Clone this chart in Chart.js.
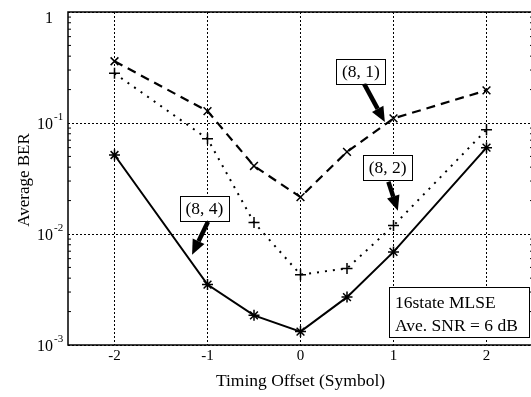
<!DOCTYPE html>
<html>
<head>
<meta charset="utf-8">
<script src="https://cdn.jsdelivr.net/npm/chart.js@4.4.0/dist/chart.umd.min.js"></script>
<style>
  html, body { margin: 0; padding: 0; background: #fff; overflow: hidden; }
  canvas { display: block; }
</style>
</head>
<body>
<canvas id="chart" width="540" height="397"></canvas>
<script>
// BER vs timing offset
const offsets = [-2, -1, -0.5, 0, 0.5, 1, 2];
const ber81 = [0.36, 0.128, 0.041, 0.0215, 0.055, 0.11, 0.197];
const ber82 = [0.28, 0.072, 0.0127, 0.0043, 0.0049, 0.0119, 0.087];
const ber84 = [0.0515, 0.0035, 0.00185, 0.00132, 0.0027, 0.0069, 0.060];

const xTicks = [-2, -1, 0, 1, 2];
const yExps = [-3, -2, -1, 0];

// labels with arrows, in data coordinates
const noteText = ['(8, 1)', '(8, 2)', '(8, 4)'];
const noteBox = [[0.65, 0.294], [0.937, 0.0394], [-1.034, 0.0171]];
const noteTail = [[0.683, 0.226], [0.945, 0.0296], [-0.995, 0.0129]];
const noteTip = [[0.907, 0.102], [1.047, 0.0162], [-1.166, 0.0065]];
const infoLines = ['16state MLSE', 'Ave. SNR = 6 dB'];

const SERIF = '"Liberation Serif", "DejaVu Serif", serif';

function pts(ys) {
  return offsets.map((x, i) => ({ x: x, y: ys[i] }));
}

const decorations = {
  id: 'decorations',
  afterDraw(chart) {
    const ctx = chart.ctx;
    const xs = chart.scales.x, ys = chart.scales.y;
    const a = chart.chartArea;
    ctx.save();

    // frame
    ctx.strokeStyle = '#000';
    ctx.lineWidth = 1.5;
    ctx.strokeRect(a.left, a.top, a.right - a.left, a.bottom - a.top);

    // minor log ticks on left and right
    ctx.lineWidth = 1;
    for (let e = -3; e < 0; e++) {
      for (let m = 2; m <= 9; m++) {
        const py = ys.getPixelForValue(m * Math.pow(10, e));
        ctx.beginPath();
        ctx.moveTo(a.left, py); ctx.lineTo(a.left + 3, py);
        ctx.moveTo(a.right, py); ctx.lineTo(a.right - 3, py);
        ctx.stroke();
      }
    }

    // y tick labels with superscripts
    ctx.fillStyle = '#000';
    ctx.textBaseline = 'alphabetic';
    yExps.forEach(e => {
      const py = ys.getPixelForValue(Math.pow(10, e));
      if (e === 0) {
        ctx.font = '16px ' + SERIF;
        ctx.textAlign = 'right';
        ctx.fillText('1', 53, py + 11);
        return;
      }
      ctx.font = '16px ' + SERIF;
      ctx.textAlign = 'right';
      ctx.fillText('10', 53, py + 6);
      ctx.font = '11px ' + SERIF;
      ctx.textAlign = 'left';
      ctx.fillText(String(e), 54, py - 3);
    });

    // y axis title
    ctx.save();
    ctx.translate(29, 180);
    ctx.rotate(-Math.PI / 2);
    ctx.font = '17px ' + SERIF;
    ctx.textAlign = 'center';
    ctx.fillText('Average BER', 0, 0);
    ctx.restore();

    // arrows
    for (let i = 0; i < noteText.length; i++) {
      const x0 = xs.getPixelForValue(noteTail[i][0]), y0 = ys.getPixelForValue(noteTail[i][1]);
      const x1 = xs.getPixelForValue(noteTip[i][0]), y1 = ys.getPixelForValue(noteTip[i][1]);
      const ang = Math.atan2(y1 - y0, x1 - x0);
      const hl = 15, hw = 6.5;
      const bx = x1 - hl * Math.cos(ang), by = y1 - hl * Math.sin(ang);
      ctx.lineWidth = 4.5;
      ctx.lineCap = 'butt';
      ctx.beginPath();
      ctx.moveTo(x0, y0); ctx.lineTo(bx, by);
      ctx.stroke();
      ctx.beginPath();
      ctx.moveTo(x1, y1);
      ctx.lineTo(bx + hw * Math.sin(ang), by - hw * Math.cos(ang));
      ctx.lineTo(bx - hw * Math.sin(ang), by + hw * Math.cos(ang));
      ctx.closePath();
      ctx.fill();
    }

    // label boxes
    ctx.font = '17.5px ' + SERIF;
    ctx.textAlign = 'center';
    ctx.textBaseline = 'middle';
    ctx.lineWidth = 1;
    for (let i = 0; i < noteText.length; i++) {
      const cx = xs.getPixelForValue(noteBox[i][0]), cy = ys.getPixelForValue(noteBox[i][1]);
      const w = ctx.measureText(noteText[i]).width + 11, h = 25;
      ctx.fillStyle = '#fff';
      ctx.fillRect(cx - w / 2, cy - h / 2, w, h);
      ctx.strokeRect(Math.round(cx - w / 2) + 0.5, Math.round(cy - h / 2) + 0.5, Math.round(w), h);
      ctx.fillStyle = '#000';
      ctx.fillText(noteText[i], cx, cy + 1);
    }

    // info box, bottom right of plot
    const bw = 140, bh = 50;
    const bx = a.right - 4 - bw, by = a.bottom - 8 - bh;
    ctx.fillStyle = '#fff';
    ctx.fillRect(bx, by, bw, bh);
    ctx.strokeRect(Math.round(bx) + 0.5, Math.round(by) + 0.5, bw, bh);
    ctx.fillStyle = '#000';
    ctx.textAlign = 'left';
    ctx.textBaseline = 'alphabetic';
    ctx.fillText(infoLines[0], bx + 6, by + 21);
    ctx.fillText(infoLines[1], bx + 6, by + 44);

    ctx.restore();
  }
};

new Chart(document.getElementById('chart'), {
  type: 'line',
  data: {
    datasets: [
      {
        label: '(8, 1)',
        data: pts(ber81),
        borderColor: '#000',
        borderWidth: 2.2,
        borderDash: [9, 6],
        pointStyle: 'crossRot',
        pointRadius: 5.5,
        pointBorderWidth: 1.5,
        pointBorderColor: '#000',
        fill: false,
        tension: 0
      },
      {
        label: '(8, 2)',
        data: pts(ber82),
        borderColor: '#000',
        borderWidth: 2,
        borderDash: [2, 6],
        pointStyle: 'cross',
        pointRadius: 5.5,
        pointBorderWidth: 1.5,
        pointBorderColor: '#000',
        fill: false,
        tension: 0
      },
      {
        label: '(8, 4)',
        data: pts(ber84),
        borderColor: '#000',
        borderWidth: 2,
        pointStyle: 'star',
        pointRadius: 5.5,
        pointBorderWidth: 1.5,
        pointBorderColor: '#000',
        fill: false,
        tension: 0
      }
    ]
  },
  options: {
    responsive: false,
    animation: false,
    layout: { padding: { left: 68, top: 12, right: 1, bottom: 1 } },
    plugins: {
      legend: { display: false },
      tooltip: { enabled: false }
    },
    scales: {
      x: {
        type: 'linear',
        min: -2.5,
        max: 2.5,
        afterBuildTicks: s => { s.ticks = xTicks.map(v => ({ value: v })); },
        grid: { color: '#000', lineWidth: 1, drawTicks: false },
        border: { display: false, dash: [2, 2] },
        ticks: {
          color: '#000',
          font: { family: SERIF, size: 15 },
          padding: 2,
          maxRotation: 0,
          callback: v => String(v)
        },
        title: {
          display: true,
          text: 'Timing Offset (Symbol)',
          color: '#000',
          font: { family: SERIF, size: 17.5 },
          padding: { top: 4, bottom: 4 }
        }
      },
      y: {
        type: 'logarithmic',
        min: 0.001,
        max: 1,
        afterBuildTicks: s => { s.ticks = yExps.map(e => ({ value: Math.pow(10, e) })); },
        grid: { color: '#000', lineWidth: 1, drawTicks: false },
        border: { display: false, dash: [2, 2] },
        ticks: { display: false }
      }
    }
  },
  plugins: [decorations]
});
</script>
</body>
</html>
